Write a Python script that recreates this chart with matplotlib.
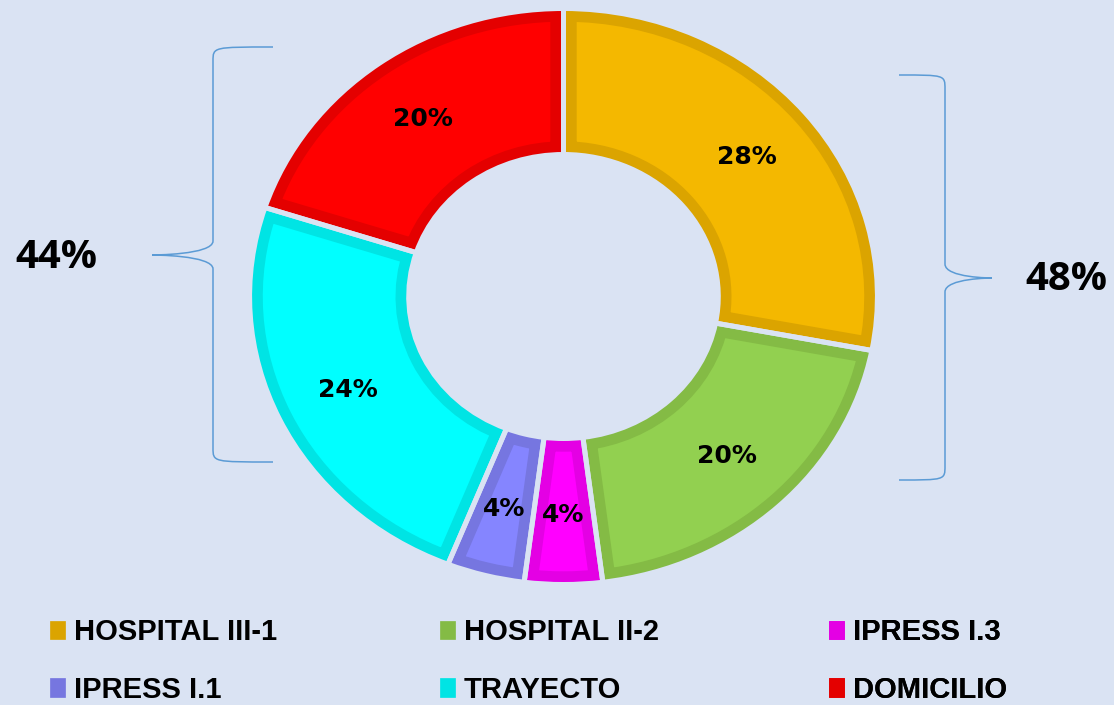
import numpy as np
import matplotlib.pyplot as plt
from matplotlib.path import Path
from matplotlib.patches import PathPatch

# data
categorias = ['HOSPITAL III-1', 'HOSPITAL II-2', 'IPRESS I.3', 'IPRESS I.1', 'TRAYECTO', 'DOMICILIO']
porcentajes = [28, 20, 4, 4, 24, 20]
colores = ['#f4b800', '#92d050', '#ff00ff', '#8585ff', '#00ffff', '#ff0000']
bordes = ['#dba400', '#84bb45', '#e400e4', '#7676e0', '#00e4e4', '#e40000']
grupo_izq = '44%'
grupo_der = '48%'

BG = '#dae3f3'
W, H = 1114, 705
SX = 1.09   # the original picture is a bit stretched horizontally

fig = plt.figure(figsize=(W / 100, H / 100), dpi=100, facecolor=BG)
ax = fig.add_axes([0, 0, 1, 1])
ax.set_facecolor(BG)
ax.axis('off')


def px(x):
    return x / SX


def py(y):
    return H - y


cx, cy = px(563.5), py(296.5)
r = 288
ring = 146

wedges, _, autotexts = ax.pie(
    porcentajes, colors=colores, startangle=90, counterclock=False,
    center=(cx, cy), radius=r, autopct='%d%%', pctdistance=0.76,
    wedgeprops=dict(width=ring, linewidth=19, joinstyle='miter'),
    textprops=dict(fontsize=18, fontweight='bold', color='black'))
# dark border only on the inside of each slice
for w, ec in zip(wedges, bordes):
    w.set_edgecolor(ec)
    w.set_clip_path(w)
    w.set_clip_on(True)
for t in autotexts:
    t.set_zorder(5)

# thin gaps between slices, in background colour
sep, _ = ax.pie(porcentajes, startangle=90, counterclock=False, center=(cx, cy), radius=r,
                wedgeprops=dict(width=ring, facecolor='none', edgecolor=BG, linewidth=3.6,
                                joinstyle='miter'))

ax.set_aspect('auto')
ax.set_xlim(0, W / SX)
ax.set_ylim(0, H)


def llave(ax, x_tip, x_line, y_top, y_bot, y_mid, x_pt):
    # curly bracket drawn with cubic curves (pixel positions)
    xt, xl, xp = px(x_tip), px(x_line), px(x_pt)
    yt, yb, ym = py(y_top), py(y_bot), py(y_mid)
    k = 14
    verts = [(xt, yt),
             (xl, yt), (xl, yt), (xl, yt - k),
             (xl, ym + k),
             (xl, ym), (xp, ym), (xp, ym),
             (xp, ym), (xl, ym), (xl, ym - k),
             (xl, yb + k),
             (xl, yb), (xl, yb), (xt, yb)]
    codes = [Path.MOVETO,
             Path.CURVE4, Path.CURVE4, Path.CURVE4,
             Path.LINETO,
             Path.CURVE4, Path.CURVE4, Path.CURVE4,
             Path.CURVE4, Path.CURVE4, Path.CURVE4,
             Path.LINETO,
             Path.CURVE4, Path.CURVE4, Path.CURVE4]
    ax.add_patch(PathPatch(Path(verts, codes), facecolor='none', edgecolor='#5b9bd5', lw=1.1))


llave(ax, 273, 213, 47, 462, 255, 152)
llave(ax, 899, 945, 75, 480, 278, 992)

ax.text(px(56), py(257), grupo_izq, fontsize=29, fontweight='bold', ha='center', va='center',
        family='Open Sans')
ax.text(px(1066), py(280), grupo_der, fontsize=29, fontweight='bold', ha='center', va='center',
        family='Open Sans')

# legend: one small legend per column, filled row by row
columnas = [[0, 3], [1, 4], [2, 5]]
x_col = [27, 417, 806]
for idx, x0 in zip(columnas, x_col):
    leg = ax.legend([wedges[i] for i in idx], [categorias[i] for i in idx],
                    loc='lower left', bbox_to_anchor=(x0 / W, -22 / H),
                    frameon=False, handlelength=0.5, handleheight=0.6, handletextpad=0.3,
                    labelspacing=1.0, borderpad=0.3,
                    prop=dict(family='Liberation Sans', weight='bold', size=21))
    for h, i in zip(leg.legend_handles, idx):
        h.set_facecolor(bordes[i])
        h.set_edgecolor(bordes[i])
        h.set_linewidth(0.5)
        h.set_clip_path(None)
    ax.add_artist(leg)

fig.savefig('out.png', dpi=100, facecolor=BG)
